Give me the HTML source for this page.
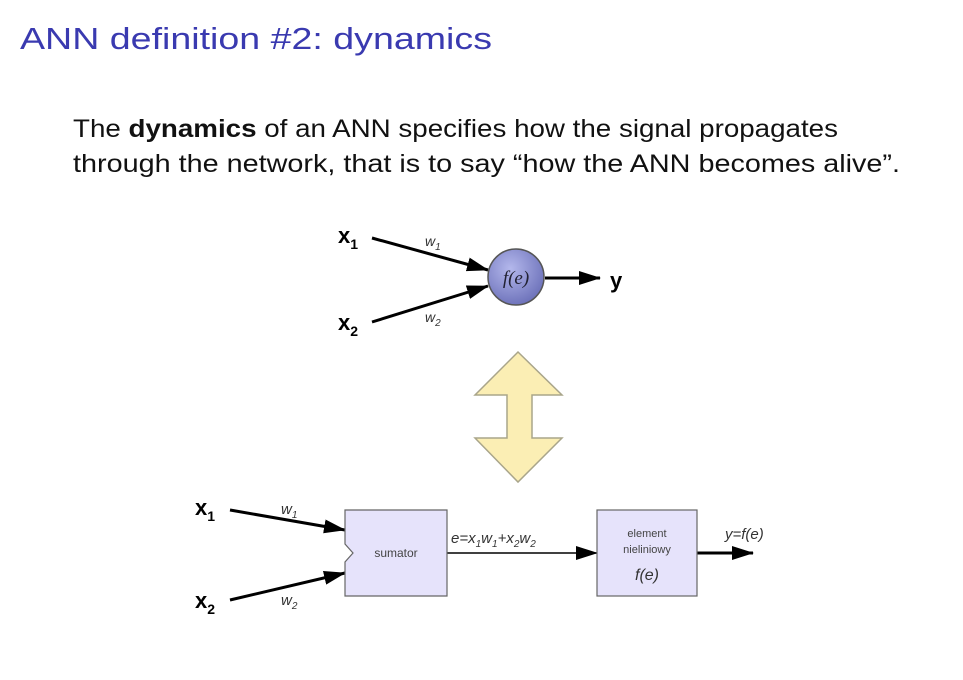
<!DOCTYPE html>
<html><head><meta charset="utf-8"><style>
body{margin:0;background:#fff;}
svg{display:block;}
</style></head><body>
<svg width="963" height="680" xmlns="http://www.w3.org/2000/svg" font-family="Liberation Sans, sans-serif">
<defs>
<radialGradient id="g" cx="40%" cy="35%" r="70%"><stop offset="0" stop-color="#b4b8ec"/><stop offset="1" stop-color="#6a6fb8"/></radialGradient>
<marker id="b" markerWidth="22" markerHeight="14" refX="21" refY="7" orient="auto" markerUnits="userSpaceOnUse" viewBox="0 0 22 14"><path d="M0,0L22,7L0,14z" fill="#000"/></marker>
</defs>
<text x="20" y="49" font-size="31" fill="#3a3ab0" textLength="472" lengthAdjust="spacingAndGlyphs">ANN definition #2: dynamics</text>
<text x="73" y="137" font-size="25" fill="#111" textLength="765" lengthAdjust="spacingAndGlyphs">The <tspan font-weight="bold">dynamics</tspan> of an ANN specifies how the signal propagates</text>
<text x="73" y="172" font-size="25" fill="#111" textLength="827" lengthAdjust="spacingAndGlyphs">through the network, that is to say “how the ANN becomes alive”.</text>

<g stroke="#000" stroke-width="3" fill="none">
<line x1="372" y1="238" x2="488" y2="270" marker-end="url(#b)"/>
<line x1="372" y1="322" x2="488" y2="286" marker-end="url(#b)"/>
<line x1="545" y1="278" x2="600" y2="278" marker-end="url(#b)"/>
</g>
<circle cx="516" cy="277" r="28" fill="url(#g)" stroke="#555" stroke-width="1.5"/>
<text x="516" y="284" font-size="19" font-family="Liberation Serif, serif" font-style="italic" text-anchor="middle" fill="#223">f(e)</text>
<text x="338" y="243" font-size="22" font-weight="bold">x<tspan font-size="14" dy="6">1</tspan></text>
<text x="338" y="330" font-size="22" font-weight="bold">x<tspan font-size="14" dy="6">2</tspan></text>
<text x="425" y="246" font-size="14" font-style="italic" fill="#333">w<tspan font-size="10" dy="4">1</tspan></text>
<text x="425" y="322" font-size="14" font-style="italic" fill="#333">w<tspan font-size="10" dy="4">2</tspan></text>
<text x="610" y="288" font-size="22" font-weight="bold">y</text>

<path d="M518,352 L562,395 L532,395 L532,438 L562,438 L518,482 L475,438 L507,438 L507,395 L475,395 Z" fill="#fbeeb4" stroke="#a9a58a" stroke-width="1.5"/>

<g stroke="#000" stroke-width="3" fill="none">
<line x1="230" y1="510" x2="345" y2="530" marker-end="url(#b)"/>
<line x1="230" y1="600" x2="345" y2="573" marker-end="url(#b)"/>
<line x1="697" y1="553" x2="753" y2="553" marker-end="url(#b)"/>
</g>
<line x1="447" y1="553" x2="597" y2="553" stroke="#000" stroke-width="1.5" marker-end="url(#b)"/>
<path d="M345,510 L447,510 L447,596 L345,596 L345,562 L353,553 L345,544 Z" fill="#e6e3fb" stroke="#666" stroke-width="1.2"/>
<rect x="597" y="510" width="100" height="86" fill="#e6e3fb" stroke="#666" stroke-width="1.2"/>
<text x="396" y="557" font-size="12" fill="#444" text-anchor="middle">sumator</text>
<text x="647" y="537" font-size="11" fill="#444" text-anchor="middle">element</text>
<text x="647" y="553" font-size="11" fill="#444" text-anchor="middle">nieliniowy</text>
<text x="647" y="580" font-size="16" font-style="italic" fill="#333" text-anchor="middle">f(e)</text>
<text x="451" y="543" font-size="15" font-style="italic" fill="#333">e=x<tspan font-size="10" dy="4">1</tspan><tspan dy="-4">w</tspan><tspan font-size="10" dy="4">1</tspan><tspan dy="-4">+x</tspan><tspan font-size="10" dy="4">2</tspan><tspan dy="-4">w</tspan><tspan font-size="10" dy="4">2</tspan></text>
<text x="725" y="539" font-size="15" font-style="italic" fill="#333">y=f(e)</text>
<text x="195" y="515" font-size="22" font-weight="bold">x<tspan font-size="14" dy="6">1</tspan></text>
<text x="195" y="608" font-size="22" font-weight="bold">x<tspan font-size="14" dy="6">2</tspan></text>
<text x="281" y="514" font-size="15" font-style="italic" fill="#333">w<tspan font-size="10" dy="4">1</tspan></text>
<text x="281" y="605" font-size="15" font-style="italic" fill="#333">w<tspan font-size="10" dy="4">2</tspan></text>
</svg>
</body></html>
